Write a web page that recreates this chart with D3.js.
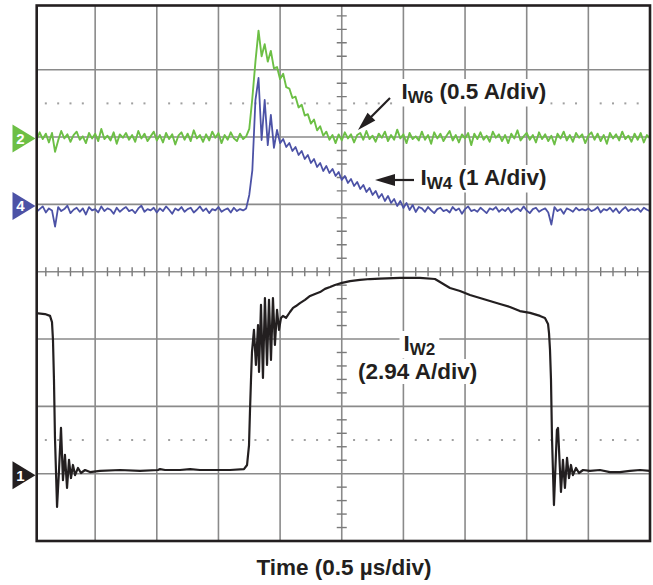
<!DOCTYPE html>
<html><head><meta charset="utf-8">
<script src="https://cdn.jsdelivr.net/npm/d3@7"></script>
<style>body{margin:0;background:#fff}svg{display:block}</style>
</head><body>
<svg id="c" width="653" height="585"></svg>
<script>
// ---- data ----
const sampleStepNs = 25;           // uniform sampling of ch2 / ch4 (0 .. 5000 ns)
// Channel 2 : I_W6, mA (0.5 A/div)
const ch2Milliamps = [
10,-20,35,-15,25,-40,30,-110,-25,45,-10,20,-35,15,40,-20,5,-45,30,-10,
25,-30,60,-15,10,-25,35,-50,20,-5,30,-20,15,-35,45,-10,25,-30,5,40,
-25,15,-40,30,-15,20,-55,10,35,-20,25,-30,50,-10,15,-35,20,-25,40,-5,
30,-45,15,-20,35,-10,-30,25,-15,5,
60,290,560,790,600,690,560,640,510,520,430,470,370,360,290,300,220,240,160,170,100,130,50,80,10,40,-20,15,-45,20,
-25,35,-10,20,-40,15,30,-20,45,-15,
10,-35,25,-5,40,-30,15,-20,55,-10,
20,-45,30,-15,5,-25,40,-20,15,-50,
35,-10,25,-30,10,45,-25,15,-40,20,
-10,30,-60,25,-15,35,-20,10,-35,40,
-5,20,-30,15,-45,25,-10,50,-25,5,
30,-20,15,-40,35,-15,20,-30,10,-55,
25,-10,40,-25,15,-35,30,-5,20,-45,
10,35,-20,25,-30,15,-50,30,-10,20,
-25,40,-15,10,-35,25,-20,30,-40,15,
-10];
// Channel 4 : I_W4, mA (1 A/div)
const ch4Milliamps = [
-50,-110,-70,-30,-120,-60,-90,-330,-40,-100,
-70,-20,-130,-80,-50,-110,-60,-150,-40,-90,
-70,-120,-30,-100,-60,-80,-140,-50,-110,-70,
-40,-100,-80,-130,-60,-20,-110,-70,-90,-50,
-120,-60,-100,-30,-80,-140,-60,-90,-40,-110,
-70,-50,-120,-80,-30,-100,-60,-130,-70,-90,
-40,-110,-80,-60,-120,-50,-100,-70,-90,-60,
140,510,1550,1877,956,1550,880,1330,840,1105,
910,971,852,912,793,852,734,793,674,734,615,674,555,615,496,570,466,526,422,481,
362,422,318,377,273,333,229,288,184,244,140,199,95,154,50,125,21,80,-24,50,-53,21,-83,-9,-113,-39,
-60,-110,-40,-90,-130,-70,-50,-100,-80,-120,
-40,-90,-60,-140,-70,-30,-100,-80,-110,-50,
-90,-130,-60,-80,-40,-110,-70,-100,-50,-120,
-80,-60,-100,-30,-90,-130,-70,-50,-110,-80,
-60,-120,-300,-40,-100,-70,-140,-60,-80,-110,
-50,-90,-70,-90,-60,-100,-80,-40,-120,-70,
-90,-50,-110,-60,-130,-80,-40,-100,-70,-90,
-60,-110,-50,-80,-100];
// Channel 1 : I_W2, A (2.94 A/div)
const ch1TimeNs = [0,93,134,150,158,166,174,191,207,223,239,255,272,288,304,320,337,361,385,418,458,
539,702,864,1010,1026,1067,1188,1270,1350,1594,1707,1732,1748,1756,1764,1772,1788,1804,1821,1829,1845,
1861,1877,1894,1910,1926,1942,1958,1975,1991,2007,2023,2048,2080,2105,2129,2161,2202,2243,2283,2324,
2364,2405,2445,2502,2567,2648,2729,2810,2972,3134,3256,3297,3337,3378,3459,3540,3621,3702,3783,3864,
3945,4027,4108,4148,4173,4181,4189,4197,4205,4221,4245,4254,4278,4294,4310,4327,4343,4359,4375,4400,
4424,4457,4513,4594,4675,4756,4838,4919,5000];
const ch1Amps = [7.02,6.97,6.89,6.62,5.84,4.10,1.60,-1.45,0.16,2.00,-0.28,0.82,-0.62,0.60,-0.19,0.38,-0.06,0.25,0.03,0.16,0.07,
0.12,0.16,0.12,0.16,0.20,0.16,0.16,0.20,0.16,0.16,0.20,0.38,1.25,2.78,4.10,5.31,6.28,4.75,6.49,4.44,7.37,
4.18,7.67,4.75,7.59,4.97,7.67,5.62,7.15,6.28,6.80,6.89,6.80,7.06,7.24,7.32,7.45,7.59,7.76,7.85,7.93,
8.07,8.15,8.24,8.33,8.41,8.46,8.50,8.52,8.55,8.55,8.50,8.37,8.24,8.11,7.98,7.80,7.67,7.54,7.41,7.28,
7.10,7.02,6.89,6.80,6.54,6.14,5.40,4.10,1.60,-1.37,1.91,2.00,-0.80,0.60,-0.62,0.69,-0.19,0.38,-0.06,0.25,
0.03,0.16,0.12,0.16,0.07,0.07,0.12,0.16,0.12];

const channelIds = ["2", "4", "1"];
const channelOffsetsDiv = [2, 1, -3];
const channelPerDiv = [500, 1000, 2.94];     // mA/div, mA/div, A/div
const channelColors = ["#6cbf45", "#4c52a6", "#231f20"];
const timeAxisTitle = "Time (0.5 \u00b5s/div)";

// ---- layout ----
const svg = d3.select("#c");
const box = {l: 36.7, t: 5.5, r: 650, b: 541};
const x = d3.scaleLinear().domain([0, 5000]).range([33.5, 650]);
const screenY = d3.scaleLinear().domain([-4, 4]).range([541, 2.4]);
const chScale = (off, per) => d3.scaleLinear().domain([(-4 - off) * per, (4 - off) * per]).range([541, 2.4]);
const yCh = channelIds.map((_, k) => chScale(channelOffsetsDiv[k], channelPerDiv[k]));

svg.append("defs").append("clipPath").attr("id", "clip")
  .append("rect").attr("x", box.l).attr("y", box.t).attr("width", box.r - box.l).attr("height", box.b - box.t);

const grid = svg.append("g").attr("clip-path", "url(#clip)");
const gridColor = "#8a8a8a";
d3.range(1, 10).forEach(k => {
  grid.append("line").attr("x1", x(k * 500)).attr("x2", x(k * 500)).attr("y1", box.t).attr("y2", box.b)
    .attr("stroke", gridColor).attr("stroke-width", 1.6);
});
d3.range(-3, 4).forEach(k => {
  grid.append("line").attr("y1", screenY(k)).attr("y2", screenY(k)).attr("x1", box.l).attr("x2", box.r)
    .attr("stroke", gridColor).attr("stroke-width", 1.6);
});
// dotted lines at +/- 2.5 div
[2.5, -2.5].forEach(v => {
  d3.range(0, 5001, 100).filter(t => t % 500 !== 0).forEach(t => {
    grid.append("rect").attr("x", x(t) - 1).attr("y", screenY(v) - 1).attr("width", 2).attr("height", 2).attr("fill", "#a0a0a0");
  });
});
// minor ticks on centre axes
const cx = x(2500), cy = screenY(0);
d3.range(-20, 21).filter(k => k % 5 !== 0).forEach(k => {
  grid.append("line").attr("x1", cx - 5).attr("x2", cx + 5).attr("y1", screenY(k / 5)).attr("y2", screenY(k / 5))
    .attr("stroke", "#7a7a7a").attr("stroke-width", 1.4);
});
d3.range(0, 51).filter(k => k % 5 !== 0).forEach(k => {
  grid.append("line").attr("y1", cy - 4.5).attr("y2", cy + 4.5).attr("x1", x(k * 100)).attr("x2", x(k * 100))
    .attr("stroke", "#7a7a7a").attr("stroke-width", 1.4);
});

// ---- traces ----
const traces = svg.append("g").attr("clip-path", "url(#clip)").attr("fill", "none").attr("stroke-linejoin", "round");
traces.append("path").datum(ch2Milliamps)
  .attr("d", d3.line().x((d, i) => x(i * sampleStepNs)).y(d => yCh[0](d)))
  .attr("stroke", channelColors[0]).attr("stroke-width", 1.9);
traces.append("path").datum(ch4Milliamps)
  .attr("d", d3.line().x((d, i) => x(i * sampleStepNs)).y(d => yCh[1](d)))
  .attr("stroke", channelColors[1]).attr("stroke-width", 1.8);
traces.append("path").datum(ch1Amps)
  .attr("d", d3.line().x((d, i) => x(ch1TimeNs[i])).y(d => yCh[2](d)))
  .attr("stroke", channelColors[2]).attr("stroke-width", 2.2);

// ---- border ----
svg.append("rect").attr("x", box.l).attr("y", box.t).attr("width", box.r - box.l).attr("height", box.b - box.t)
  .attr("fill", "none").attr("stroke", "#231f20").attr("stroke-width", 2.6);

// ---- channel markers ----
channelIds.forEach((id, k) => {
  const yy = screenY(channelOffsetsDiv[k]) + 1.5;
  svg.append("path").attr("d", `M12.5,${yy - 14}L35.5,${yy}L12.5,${yy + 14}Z`).attr("fill", channelColors[k]);
  svg.append("text").attr("x", 20.5).attr("y", yy + 5.5).attr("text-anchor", "middle")
    .attr("font-family", "Liberation Sans, Arial, sans-serif").attr("font-weight", "bold").attr("font-size", 15)
    .attr("fill", "#fff").text(id);
});

// ---- labels ----
const font = "Liberation Sans, Arial, Helvetica, sans-serif";
function label(parts, tx, ty) {
  const g = svg.append("g");
  const rect = g.append("rect").attr("fill", "#fff");
  const t = g.append("text").attr("x", tx).attr("y", ty).attr("font-family", font).attr("font-weight", "bold")
    .attr("font-size", 22.5).attr("fill", "#231f20");
  let shift = 0;
  parts.forEach(p => {
    const s = t.append("tspan").text(p.s);
    const target = p.sub ? 3.5 : 0;
    s.attr("dy", target - shift); shift = target;
    if (p.sub) s.attr("font-size", 17);
  });
  const bb = t.node().getBBox();
  rect.attr("x", bb.x - 4).attr("y", bb.y).attr("width", bb.width + 8).attr("height", bb.height);
}
label([{s: "I"}, {s: "W6", sub: true}, {s: " (0.5 A/div)"}], 401.5, 99);
label([{s: "I"}, {s: "W4", sub: true}, {s: " (1 A/div)"}], 420.5, 185);
label([{s: "I"}, {s: "W2", sub: true}], 403.5, 351);
label([{s: "(2.94 A/div)"}], 358, 379);

function arrow(x1, y1, x2, y2, len, hw) {
  const dx = x2 - x1, dy = y2 - y1, L = Math.hypot(dx, dy), ux = dx / L, uy = dy / L;
  const bx = x2 - ux * len, by = y2 - uy * len;
  svg.append("line").attr("x1", x1).attr("y1", y1).attr("x2", bx + ux * 2).attr("y2", by + uy * 2)
    .attr("stroke", "#231f20").attr("stroke-width", 2.2);
  svg.append("path").attr("d", `M${x2},${y2}L${bx - uy * hw},${by + ux * hw}L${bx + uy * hw},${by - ux * hw}Z`).attr("fill", "#231f20");
}
arrow(390, 98, 358, 130, 19, 5.5);
arrow(414, 180, 375, 180, 20, 6);

// ---- time title ----
svg.append("text").attr("x", 344).attr("y", 575).attr("text-anchor", "middle")
  .attr("font-family", font).attr("font-weight", "bold").attr("font-size", 22.5).attr("fill", "#231f20")
  .text(timeAxisTitle);
</script>
</body></html>
